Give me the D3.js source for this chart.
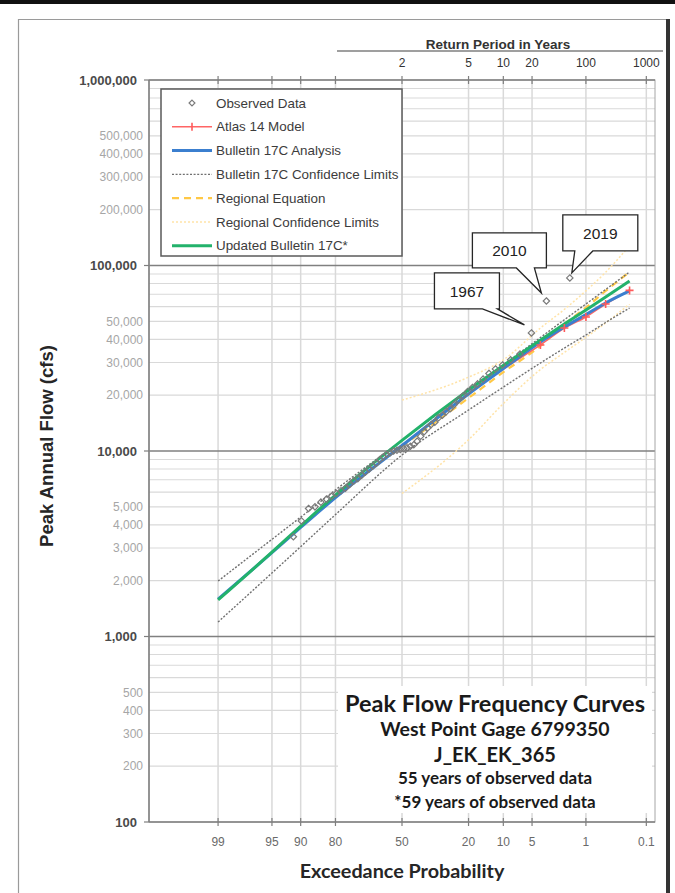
<!DOCTYPE html>
<html>
<head>
<meta charset="utf-8">
<script src="https://cdn.jsdelivr.net/npm/d3@7"></script>
<style>
body { margin: 0; background: #fff; }
svg { display: block; }
</style>
</head>
<body>
<svg id="chart" width="675" height="893"></svg>
<script>
// axis ticks
const probTicks = [99, 95, 90, 80, 50, 20, 10, 5, 1, 0.1]
const returnPeriods = [2, 5, 10, 20, 100, 1000]
const flowMajor = [100, 1000, 10000, 100000, 1000000]
const flowMinorLabels = [200, 300, 400, 500, 2000, 3000, 4000, 5000,
    20000, 30000, 40000, 50000, 200000, 300000, 400000, 500000]

// frequency curves (percent exceedance -> cfs)
const curveProbs = [99, 95, 90, 80, 50, 20, 10, 4, 2, 1, 0.5, 0.2]
const b17c = [1590, 2830, 3870, 5610, 10700, 20300, 27800, 38700, 46600, 54400, 62800, 72900]
const b17cUpper = [1990, 3340, 4400, 6170, 11400, 21100, 29100, 40900, 51000, 62000, 74300, 92200]
const b17cLower = [1197, 2200, 3050, 4540, 9510, 16630, 22100, 29800, 35900, 42200, 49300, 59000]
const updated17c = [1574, 2850, 3940, 5790, 11400, 21300, 28900, 39600, 48400, 57600, 67600, 82500]

const regionalProbs = [50, 20, 10, 4, 2, 1, 0.5, 0.2]
const regional = [10600, 19300, 26600, 36900, 48400, 59300, 72900, 92200]
const regionalUpper = [18800, 25000, 31000, 46000, 58000, 73000, 92000, 128000]
const regionalLower = [5900, 11500, 18000, 27500, 34000, 41000, 49000, 62000]
const atlas14 = [10700, 20300, 27600, 37300, 46000, 52800, 62000, 73400]

// observed annual peaks, plotting position in percent
const obsProbs = [1.69, 3.39, 5.08, 6.78, 8.47, 10.17, 11.86, 13.56, 15.25, 16.95,
    18.64, 20.34, 22.03, 23.73, 25.42, 27.12, 28.81, 30.51, 32.20, 33.90,
    35.59, 37.29, 38.98, 40.68, 42.37, 44.07, 45.76, 47.46, 49.15, 50.85,
    52.54, 54.24, 55.93, 57.63, 59.32, 61.02, 62.71, 64.41, 66.10, 67.80,
    69.49, 71.19, 72.88, 74.58, 76.27, 77.97, 79.66, 81.36, 83.05, 84.75,
    86.44, 88.14, 89.83, 91.53]
const obsFlows = [85700, 64400, 43300, 33300, 31000, 29100, 27700, 26200, 24400, 23000,
    22000, 20900, 19800, 18800, 17800, 16900, 16300, 15600, 15100, 14300,
    13900, 13300, 12700, 12000, 11300, 10800, 10600, 10400, 10300, 10200,
    10100, 10000, 9800, 9600, 9300, 9000, 8600, 8300, 8000, 7700,
    7400, 7100, 6900, 6600, 6300, 6100, 5900, 5700, 5500, 5300,
    5000, 4900, 4200, 3450]

const callouts = [
    {label: "1967", index: 2},
    {label: "2010", index: 1},
    {label: "2019", index: 0},
]

const titleLines = ["Peak Flow Frequency Curves", "West Point Gage 6799350", "J_EK_EK_365",
    "55 years of observed data", "*59 years of observed data"]

// inverse standard normal (Acklam)
function probit(p) {
    const a = [-39.69683028665376, 220.9460984245205, -275.9285104469687, 138.3577518672690, -30.66479806614716, 2.506628277459239]
    const b = [-54.47609879822406, 161.5858368580409, -155.6989798598866, 66.80131188771972, -13.28068155288572]
    const c = [-0.007784894002430293, -0.3223964580411365, -2.400758277161838, -2.549732539343734, 4.374664141464968, 2.938163982698783]
    const d = [0.007784695709041462, 0.3224671290700398, 2.445134137142996, 3.754408661907416]
    const plow = 0.02425
    if (p < plow) {
        let q = Math.sqrt(-2 * Math.log(p))
        return (((((c[0]*q+c[1])*q+c[2])*q+c[3])*q+c[4])*q+c[5]) / ((((d[0]*q+d[1])*q+d[2])*q+d[3])*q+1)
    }
    if (p <= 1 - plow) {
        let q = p - 0.5, r = q*q
        return (((((a[0]*r+a[1])*r+a[2])*r+a[3])*r+a[4])*r+a[5])*q / (((((b[0]*r+b[1])*r+b[2])*r+b[3])*r+b[4])*r+1)
    }
    let q = Math.sqrt(-2 * Math.log(1 - p))
    return -(((((c[0]*q+c[1])*q+c[2])*q+c[3])*q+c[4])*q+c[5]) / ((((d[0]*q+d[1])*q+d[2])*q+d[3])*q+1)
}

const plotLeft = 149, plotRight = 655, plotTop = 80, plotBottom = 822

let zScale = d3.scaleLinear().domain([-3.2, 3.2]).range([plotLeft, plotRight])
let x = pct => zScale(-probit(pct / 100))
let y = d3.scaleLog().domain([100, 1000000]).range([plotBottom, plotTop])

const arial = "'Liberation Sans', Arial, sans-serif"
const calibri = "Lato, 'Open Sans', sans-serif"

let svg = d3.select("#chart")

// page frame
svg.append("rect").attr("x", 0).attr("y", 0).attr("width", 675).attr("height", 4).attr("fill", "#111")
svg.append("path").attr("d", "M18.5,893 V19.5 H668").attr("fill", "none").attr("stroke", "#9a9a9a").attr("stroke-width", 1.2)
svg.append("rect").attr("x", 666).attr("y", 19).attr("width", 4).attr("height", 874).attr("fill", "#333")

// gridlines
let grid = svg.append("g")
let minorVals = []
for (let dec = 100; dec < 1000000; dec *= 10) {
    for (let k = 2; k <= 9; k++) minorVals.push(dec * k)
}
grid.selectAll("line.minor").data(minorVals).join("line")
    .attr("x1", plotLeft).attr("x2", plotRight)
    .attr("y1", d => y(d)).attr("y2", d => y(d))
    .attr("stroke", "#d9d9d9").attr("stroke-width", 1.2)
grid.selectAll("line.vert").data(probTicks).join("line")
    .attr("x1", d => x(d)).attr("x2", d => x(d))
    .attr("y1", plotTop).attr("y2", plotBottom)
    .attr("stroke", "#d9d9d9").attr("stroke-width", 1.5)
grid.selectAll("line.major").data(flowMajor.slice(1, -1)).join("line")
    .attr("x1", plotLeft).attr("x2", plotRight)
    .attr("y1", d => y(d)).attr("y2", d => y(d))
    .attr("stroke", "#808080").attr("stroke-width", 1.6)

// white panel behind the title text
svg.append("rect").attr("x", 338).attr("y", 686).attr("width", 314).attr("height", 127).attr("fill", "#fff")

// plot frame
svg.append("rect").attr("x", plotLeft).attr("y", plotTop).attr("width", plotRight - plotLeft).attr("height", plotBottom - plotTop)
    .attr("fill", "none").attr("stroke", "#a6a6a6").attr("stroke-width", 1)
svg.append("line").attr("x1", plotLeft).attr("x2", plotLeft).attr("y1", plotTop).attr("y2", plotBottom).attr("stroke", "#7f7f7f").attr("stroke-width", 1.5)
svg.append("line").attr("x1", plotLeft).attr("x2", plotRight).attr("y1", plotBottom).attr("y2", plotBottom).attr("stroke", "#7f7f7f").attr("stroke-width", 1.5)
svg.append("line").attr("x1", plotLeft).attr("x2", plotRight).attr("y1", plotTop).attr("y2", plotTop).attr("stroke", "#7f7f7f").attr("stroke-width", 1.5)

// y axis labels
let yAxis = svg.append("g")
yAxis.selectAll("line").data(flowMajor).join("line")
    .attr("x1", plotLeft - 5).attr("x2", plotLeft).attr("y1", d => y(d)).attr("y2", d => y(d))
    .attr("stroke", "#7f7f7f").attr("stroke-width", 1.2)
yAxis.selectAll("text.major").data(flowMajor).join("text")
    .attr("x", 137).attr("y", d => y(d)).attr("dy", "0.35em")
    .attr("text-anchor", "end").attr("font-family", arial).attr("font-size", 13)
    .attr("font-weight", "bold").attr("fill", "#4a4a4a")
    .text(d => d3.format(",")(d))
yAxis.selectAll("text.minor").data(flowMinorLabels).join("text")
    .attr("x", 143).attr("y", d => y(d)).attr("dy", "0.35em")
    .attr("text-anchor", "end").attr("font-family", arial).attr("font-size", 12)
    .attr("fill", "#a6a6a6")
    .text(d => d3.format(",")(d))

// x axis ticks and labels
let xAxis = svg.append("g")
xAxis.selectAll("line.b").data(probTicks).join("line")
    .attr("x1", d => x(d)).attr("x2", d => x(d)).attr("y1", plotBottom - 4).attr("y2", plotBottom + 4)
    .attr("stroke", "#7f7f7f").attr("stroke-width", 1.2)
xAxis.selectAll("line.t").data(probTicks).join("line")
    .attr("x1", d => x(d)).attr("x2", d => x(d)).attr("y1", plotTop - 4).attr("y2", plotTop + 4)
    .attr("stroke", "#7f7f7f").attr("stroke-width", 1.2)
xAxis.selectAll("text").data(probTicks).join("text")
    .attr("x", d => x(d)).attr("y", 842).attr("dy", "0.35em")
    .attr("text-anchor", "middle").attr("font-family", arial).attr("font-size", 12)
    .attr("fill", "#6a6a6a")
    .text(d => d)

// return period axis on top
svg.append("line").attr("x1", 337).attr("x2", 663).attr("y1", 51).attr("y2", 51)
    .attr("stroke", "#7f7f7f").attr("stroke-width", 1.5)
svg.append("text").attr("x", 498).attr("y", 49).attr("text-anchor", "middle")
    .attr("font-family", arial).attr("font-size", 13.5).attr("font-weight", "bold").attr("fill", "#333")
    .text("Return Period in Years")
svg.append("g").selectAll("text").data(returnPeriods).join("text")
    .attr("x", d => x(100 / d)).attr("y", 63).attr("dy", "0.35em")
    .attr("text-anchor", "middle").attr("font-family", arial).attr("font-size", 12)
    .attr("fill", "#333")
    .text(d => d)

// axis titles
svg.append("text").attr("transform", "translate(53,446) rotate(-90)")
    .attr("text-anchor", "middle").attr("font-family", arial).attr("font-size", 18.5)
    .attr("font-weight", "bold").attr("fill", "#262626")
    .text("Peak Annual Flow (cfs)")
svg.append("text").attr("x", 402).attr("y", 878).attr("text-anchor", "middle")
    .attr("font-family", calibri).attr("font-size", 19.8).attr("font-weight", "bold").attr("fill", "#262626")
    .text("Exceedance Probability")

// curves
let line = d3.line().x(d => x(d.p)).y(d => y(d.v)).curve(d3.curveMonotoneX)
let toPts = (probs, vals) => probs.map((p, i) => ({p: p, v: vals[i]}))

let series = [
    {probs: regionalProbs, vals: regionalUpper, color: "#ffe3a8", width: 1.5, dash: "2,2"},
    {probs: regionalProbs, vals: regionalLower, color: "#ffe3a8", width: 1.5, dash: "2,2"},
    {probs: regionalProbs, vals: regional, color: "#ffc845", width: 2.2, dash: "7,5"},
    {probs: curveProbs, vals: b17cUpper, color: "#707070", width: 1.4, dash: "2,1.6"},
    {probs: curveProbs, vals: b17cLower, color: "#707070", width: 1.4, dash: "2,1.6"},
    {probs: regionalProbs, vals: atlas14, color: "#ff6565", width: 1.6, dash: null},
    {probs: curveProbs, vals: b17c, color: "#3b7fcf", width: 3, dash: null},
    {probs: curveProbs, vals: updated17c, color: "#23b26b", width: 3, dash: null},
]
let curves = svg.append("g")
for (let s of series) {
    curves.append("path")
        .attr("d", line(toPts(s.probs, s.vals)))
        .attr("fill", "none")
        .attr("stroke", s.color)
        .attr("stroke-width", s.width)
        .attr("stroke-dasharray", s.dash)
}
// Atlas 14 markers
curves.selectAll("path.plus").data(toPts(regionalProbs, atlas14).slice(3)).join("path")
    .attr("d", d => `M${x(d.p) - 4},${y(d.v)} h8 M${x(d.p)},${y(d.v) - 4} v8`)
    .attr("stroke", "#ff5a5a").attr("stroke-width", 1.6)

// observed points
svg.append("g").selectAll("path").data(toPts(obsProbs, obsFlows)).join("path")
    .attr("d", d3.symbol(d3.symbolDiamond2, 26))
    .attr("transform", d => `translate(${x(d.p)},${y(d.v)})`)
    .attr("fill", "none").attr("stroke", "#7a7a7a").attr("stroke-width", 1.2)

// callouts
let boxes = [
    {dx: -97, dy: -60, w: 65, h: 36, tail: [48, 63], tip: [-7, -8]},
    {dx: -74, dy: -68, w: 74, h: 35, tail: [44, 62], tip: [-5, -8]},
    {dx: -7, dy: -63, w: 75, h: 36, tail: [12, 30], tip: [2, -5]},
]
callouts.forEach((c, i) => {
    let b = boxes[i]
    let px = x(obsProbs[c.index]), py = y(obsFlows[c.index])
    let x0 = px + b.dx, y0 = py + b.dy, x1 = x0 + b.w, y1 = y0 + b.h
    svg.append("path")
        .attr("d", `M${x0},${y0} H${x1} V${y1} H${x0 + b.tail[1]} L${px + b.tip[0]},${py + b.tip[1]} L${x0 + b.tail[0]},${y1} H${x0} Z`)
        .attr("fill", "#fff").attr("stroke", "#262626").attr("stroke-width", 1.3)
    svg.append("text").attr("x", x0 + b.w / 2).attr("y", y0 + b.h / 2).attr("dy", "0.36em")
        .attr("text-anchor", "middle").attr("font-family", arial).attr("font-size", 15.5)
        .attr("fill", "#222").text(c.label)
})

// legend
let legend = svg.append("g")
legend.append("rect").attr("x", 161).attr("y", 89).attr("width", 241).attr("height", 167)
    .attr("fill", "#fff").attr("stroke", "#5a5a5a").attr("stroke-width", 1.5)
let legendItems = [
    {name: "Observed Data", kind: "point"},
    {name: "Atlas 14 Model", kind: "plus", color: "#ff6565", width: 1.6},
    {name: "Bulletin 17C Analysis", color: "#3b7fcf", width: 3},
    {name: "Bulletin 17C Confidence Limits", color: "#707070", width: 1.4, dash: "2,1.6"},
    {name: "Regional Equation", color: "#ffc845", width: 2.2, dash: "7,5"},
    {name: "Regional Confidence Limits", color: "#ffe3a8", width: 1.5, dash: "2,2"},
    {name: "Updated Bulletin 17C*", color: "#23b26b", width: 3},
]
legendItems.forEach((it, i) => {
    let ly = 103 + i * 23.8
    if (it.kind == "point") {
        legend.append("path").attr("d", d3.symbol(d3.symbolDiamond2, 22))
            .attr("transform", `translate(192,${ly})`)
            .attr("fill", "none").attr("stroke", "#7a7a7a").attr("stroke-width", 1.2)
    } else {
        legend.append("line").attr("x1", 172).attr("x2", 212).attr("y1", ly).attr("y2", ly)
            .attr("stroke", it.color).attr("stroke-width", it.width).attr("stroke-dasharray", it.dash || null)
        if (it.kind == "plus") {
            legend.append("line").attr("x1", 192).attr("x2", 192).attr("y1", ly - 4).attr("y2", ly + 4)
                .attr("stroke", "#ff5a5a").attr("stroke-width", 1.6)
        }
    }
    legend.append("text").attr("x", 216).attr("y", ly).attr("dy", "0.35em")
        .attr("font-family", arial).attr("font-size", 13.4).attr("fill", "#3c3c3c")
        .text(it.name)
})

// title block
let titleSizes = [23.5, 19.5, 20, 17, 17]
let titleY = [712, 736, 762, 784, 808]
svg.append("g").selectAll("text").data(titleLines).join("text")
    .attr("x", 495).attr("y", (d, i) => titleY[i])
    .attr("text-anchor", "middle").attr("font-family", calibri)
    .attr("font-size", (d, i) => titleSizes[i]).attr("font-weight", "bold").attr("fill", "#1a1a1a")
    .text(d => d)
</script>
</body>
</html>
